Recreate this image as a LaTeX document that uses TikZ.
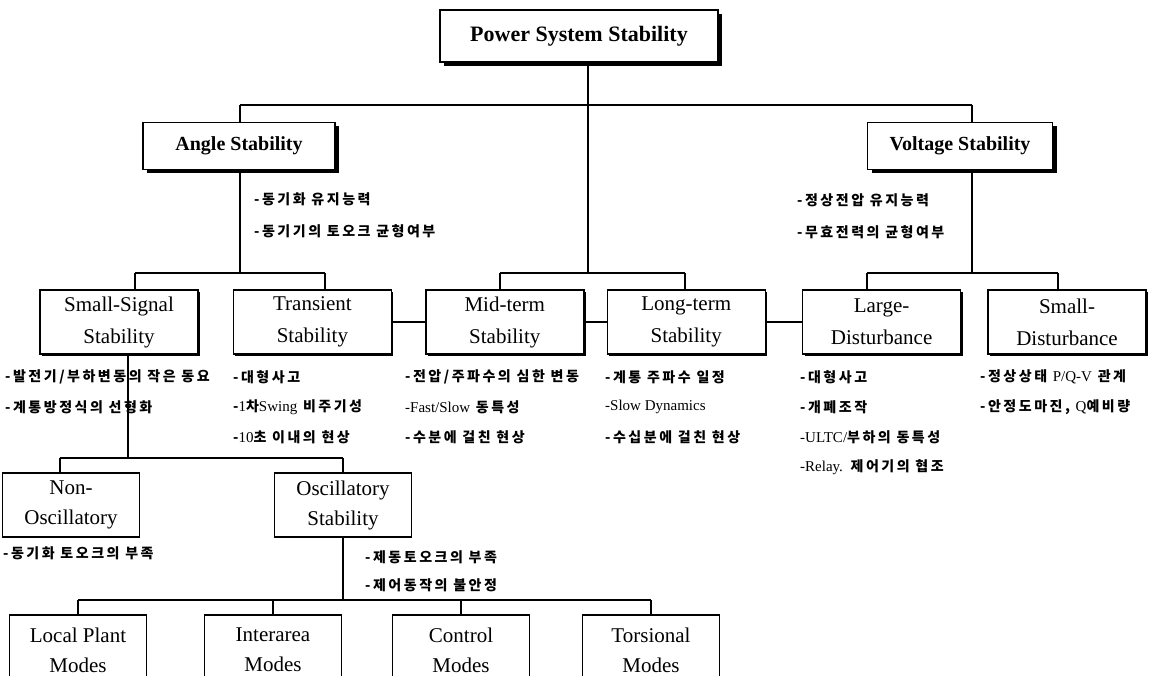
\documentclass[tikz,border=0pt]{standalone}
\usepackage{fontspec}
\setmainfont{Liberation Serif}
\newfontfamily\kr[LetterSpace=18]{Noto Sans CJK KR}
\usetikzlibrary{positioning,shadows}

\newcommand{\lat}[1]{{\rmfamily\mdseries\fontsize{15}{16}\selectfont #1}}

\begin{document}
\begin{tikzpicture}[x=1pt, y=-1pt, node distance=34pt,
    titlebox/.style = {draw, line width=1.6pt, fill=white, inner sep=0pt,
      font=\bfseries\fontsize{20}{24}\selectfont,
      drop shadow={shadow xshift=4pt, shadow yshift=-4pt, opacity=1, fill=black}},
    stab/.style = {draw, line width=1.4pt, fill=white, inner sep=0pt,
      minimum width=158pt, minimum height=64pt, align=center,
      font=\fontsize{21}{32}\selectfont,
      drop shadow={shadow xshift=2pt, shadow yshift=-2pt, opacity=1, fill=black}},
    mode/.style = {draw, line width=1.4pt, fill=white, inner sep=0pt,
      minimum width=137pt, minimum height=64pt, align=center,
      font=\fontsize{21}{30}\selectfont},
    note/.style = {anchor=west, inner sep=0pt, font=\kr\bfseries\fontsize{14}{16}\selectfont},
    link/.style = {line width=1.8pt}]
    \useasboundingbox (0,0) rectangle (1157,676);
    \clip (0,0) rectangle (1157,676);

    % top level
    \node[titlebox, minimum width=278pt, minimum height=52pt, font=\bfseries\fontsize{22}{26}\selectfont] (pss) at (579,36) {Power System Stability};
    \node[titlebox, minimum width=192pt, minimum height=47pt] (ang) at (239,146) {Angle Stability};
    \node[titlebox, minimum width=185pt, minimum height=47pt] (vol) at (960,146) {Voltage Stability};

    % second level
    \node[stab] (ss) at (119,322) {Small-Signal\\Stability};
    \node[stab] (tr) [right=34pt of ss] {Transient\\Stability};
    \node[stab] (mid) [right=33pt of tr] {Mid-term\\Stability};
    \node[stab] (lt) [right=22pt of mid] {Long-term\\Stability};
    \node[stab] (ld) [right=36pt of lt] {Large-\\Disturbance};
    \node[stab] (sd) [right=26pt of ld] {Small-\\Disturbance};

    % third and fourth level
    \node[mode] (non) at (71,505) {Non-\\Oscillatory};
    \node[mode] (osc) at (343,505) {Oscillatory\\Stability};
    \node[mode, minimum height=70pt] (lp) at (78,650) {Local Plant\\Modes};
    \node[mode, minimum height=70pt] (ia) at (273,650) {Interarea\\Modes};
    \node[mode, minimum height=70pt] (cm) at (461,650) {Control\\Modes};
    \node[mode, minimum height=70pt] (tm) at (651,650) {Torsional\\Modes};

    % notes
    \node[note] (a1) at (254,199) {-동기화 유지능력};
    \node[note] (a2) at (254,231) {-동기기의 토오크 균형여부};
    \node[note] (v1) at (797,200) {-정상전압 유지능력};
    \node[note] (v2) at (797,232) {-무효전력의 균형여부};

    \node[note] (ss1) at (5,377) {-발전기/부하변동의 작은 동요};
    \node[note] (ss2) at (5,407) {-계통방정식의 선형화};
    \node[note] (tr1) at (233,377) {-대형사고};
    \node[note] (tr2) at (233,407) {-\lat{1}차\lat{Swing} 비주기성};
    \node[note] (tr3) at (233,437) {-\lat{10}초 이내의 현상};
    \node[note] (mid1) at (405,377) {-전압/주파수의 심한 변동};
    \node[note] (mid2) at (405,407) {\lat{-Fast/Slow} 동특성};
    \node[note] (mid3) at (405,437) {-수분에 걸친 현상};
    \node[note] (lt1) at (605,377) {-계통 주파수 일정};
    \node[note] (lt2) at (605,407) {\lat{-Slow Dynamics}};
    \node[note] (lt3) at (605,437) {-수십분에 걸친 현상};
    \node[note] (ld1) at (800,377) {-대형사고};
    \node[note] (ld2) at (800,407) {-개폐조작};
    \node[note] (ld3) at (800,437) {\lat{-ULTC/}부하의 동특성};
    \node[note] (ld4) at (800,467) {\lat{-Relay.} 제어기의 협조};
    \node[note] (sd1) at (980,377) {-정상상태 \lat{P/Q-V} 관계};
    \node[note] (sd2) at (980,407) {-안정도마진, \lat{Q}예비량};

    \node[note] (non1) at (3,553) {-동기화 토오크의 부족};
    \node[note] (osc1) at (365,557) {-제동토오크의 부족};
    \node[note] (osc2) at (365,585) {-제어동작의 불안정};

    % junctions
    \coordinate (top) at (588,105);
    \coordinate (jA) at (240,105);
    \coordinate (jV) at (972,105);
    \coordinate (jM) at (588,273);
    \coordinate (aL) at (135,273);
    \coordinate (aR) at (325,273);
    \coordinate (mL) at (500,273);
    \coordinate (mR) at (685,273);
    \coordinate (vL) at (867,273);
    \coordinate (vR) at (1058,273);
    \coordinate (sJ) at (128,458);
    \coordinate (sL) at (60,458);
    \coordinate (sR) at (343,458);
    \coordinate (oL) at (78,600);
    \coordinate (oR) at (651,600);

    % tree lines
    \draw[link] (pss.south -| top) -- (jM);
    \draw[link] (jA) -- (jV);
    \draw[link] (jA) -- (jA |- ang.north);
    \draw[link] (jV) -- (jV |- vol.north);

    \draw[link] (ang.south -| jA) -- (jA |- aL);
    \draw[link] (aL) -- (aR);
    \draw[link] (aL) -- (aL |- ss.north);
    \draw[link] (aR) -- (aR |- tr.north);

    \draw[link] (mL) -- (mR);
    \draw[link] (mL) -- (mL |- mid.north);
    \draw[link] (mR) -- (mR |- lt.north);

    \draw[link] (vol.south -| jV) -- (jV |- vL);
    \draw[link] (vL) -- (vR);
    \draw[link] (vL) -- (vL |- ld.north);
    \draw[link] (vR) -- (vR |- sd.north);

    \draw[link] (tr) -- (mid);
    \draw[link] (mid) -- (lt);
    \draw[link] (lt) -- (ld);

    \draw[link] (ss.south -| sJ) -- (sJ);
    \draw[link] (sL) -- (sR);
    \draw[link] (sL) -- (sL |- non.north);
    \draw[link] (sR) -- (osc.north);

    \draw[link] (osc.south) -- (osc.south |- oL);
    \draw[link] (oL) -- (oR);
    \draw[link] (oL) -- (lp.north);
    \draw[link] (ia.north |- oL) -- (ia.north);
    \draw[link] (cm.north |- oL) -- (cm.north);
    \draw[link] (oR) -- (tm.north);
\end{tikzpicture}
\end{document}
